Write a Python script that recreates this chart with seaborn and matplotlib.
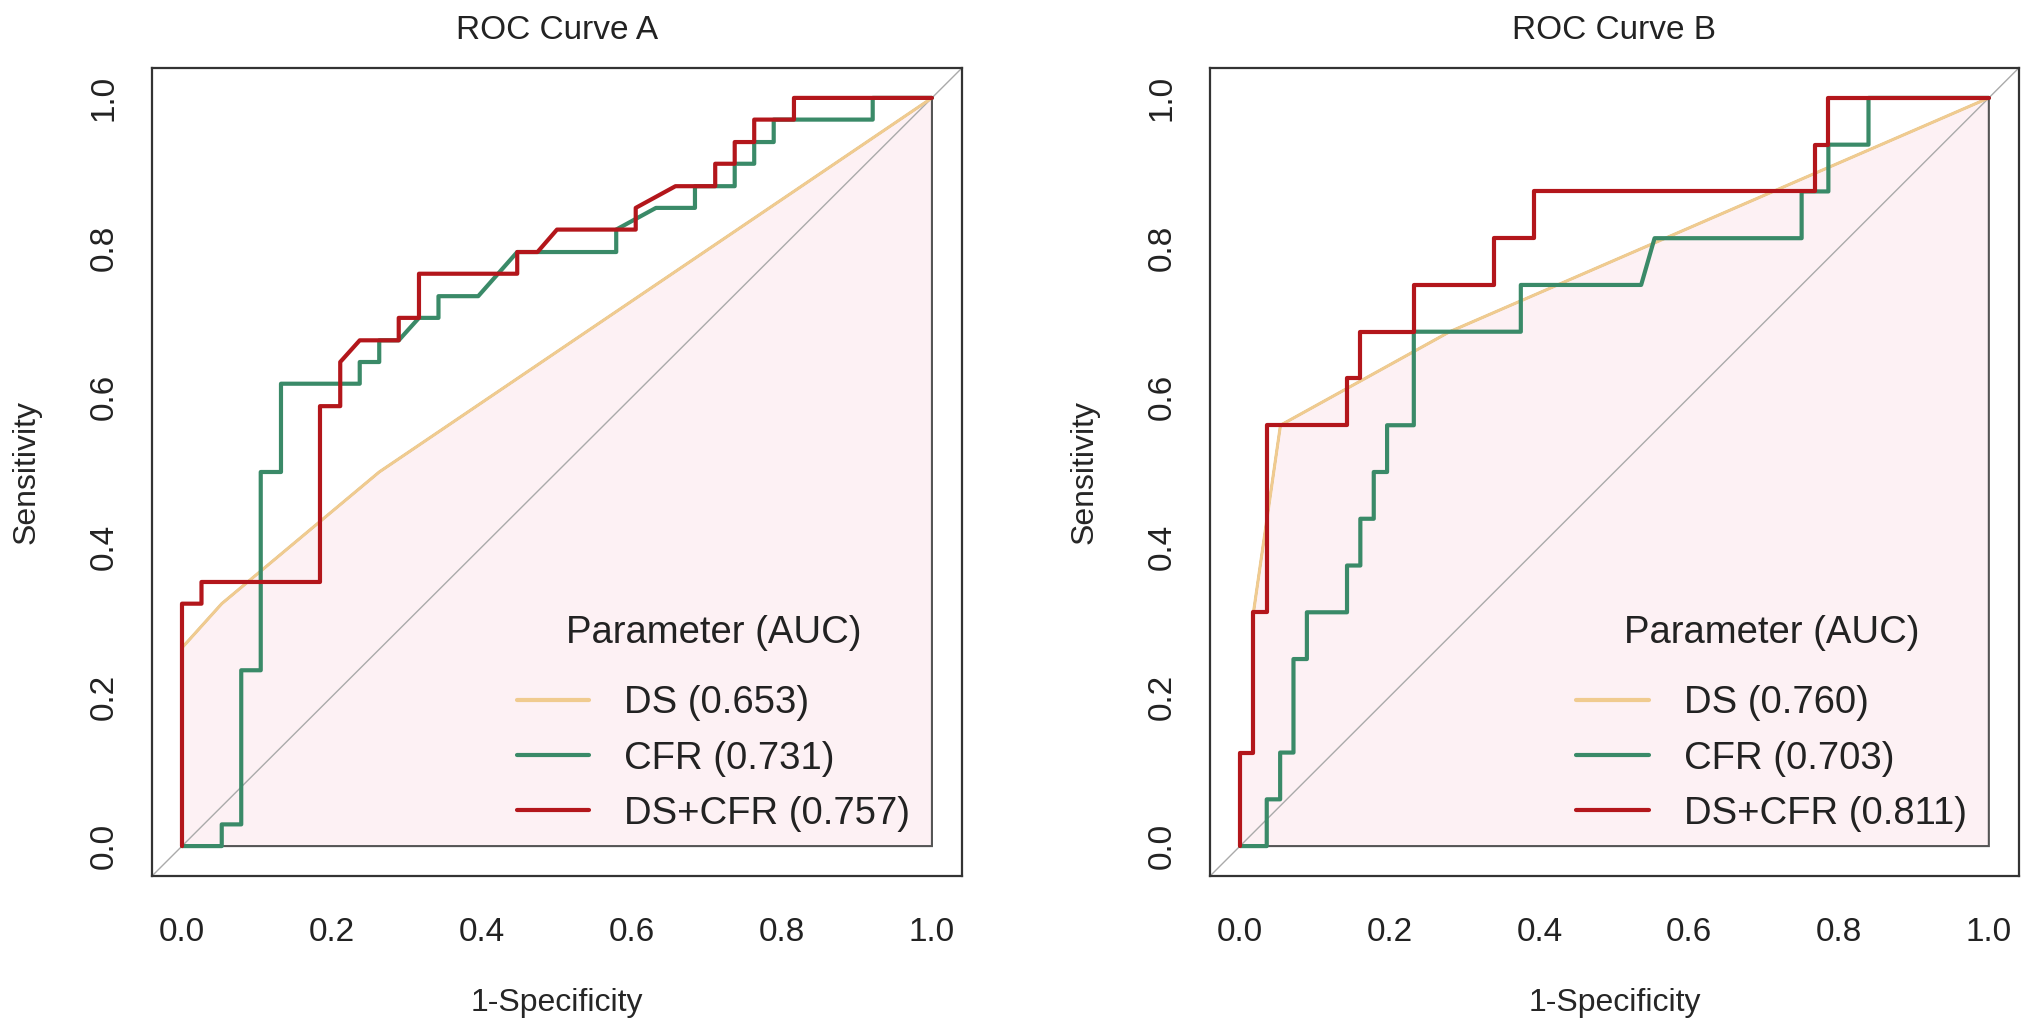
import matplotlib
matplotlib.use("Agg")
import matplotlib.pyplot as plt
import seaborn as sns

# ROC curve A (38 negatives, 34 positives)
a_ds_x = [0.0, 0.0, 0.053, 0.263, 1.0]
a_ds_y = [0.0, 0.265, 0.324, 0.5, 1.0]
a_cfr_x = [0.0, 0.053, 0.053, 0.079, 0.079, 0.105, 0.105, 0.132, 0.132, 0.237, 0.237,
           0.263, 0.263, 0.289, 0.316, 0.342, 0.342, 0.395, 0.447, 0.579, 0.579, 0.632,
           0.684, 0.684, 0.737, 0.737, 0.763, 0.763, 0.789, 0.789, 0.921, 0.921, 1.0]
a_cfr_y = [0.0, 0.0, 0.029, 0.029, 0.235, 0.235, 0.5, 0.5, 0.618, 0.618, 0.647,
           0.647, 0.676, 0.676, 0.706, 0.706, 0.735, 0.735, 0.794, 0.794, 0.824, 0.853,
           0.853, 0.882, 0.882, 0.912, 0.912, 0.941, 0.941, 0.971, 0.971, 1.0, 1.0]
a_comb_x = [0.0, 0.0, 0.026, 0.026, 0.184, 0.184, 0.211, 0.211, 0.237, 0.289, 0.289,
            0.316, 0.316, 0.447, 0.447, 0.474, 0.5, 0.605, 0.605, 0.658, 0.711, 0.711,
            0.737, 0.737, 0.763, 0.763, 0.816, 0.816, 1.0]
a_comb_y = [0.0, 0.324, 0.324, 0.353, 0.353, 0.588, 0.588, 0.647, 0.676, 0.676, 0.706,
            0.706, 0.765, 0.765, 0.794, 0.794, 0.824, 0.824, 0.853, 0.882, 0.882, 0.912,
            0.912, 0.941, 0.941, 0.971, 0.971, 1.0, 1.0]
a_auc = [0.653, 0.731, 0.757]

# ROC curve B (56 negatives, 16 positives)
b_ds_x = [0.0, 0.0, 0.018, 0.018, 0.054, 0.28, 1.0]
b_ds_y = [0.0, 0.125, 0.125, 0.3125, 0.5625, 0.6875, 1.0]
b_cfr_x = [0.0, 0.0357, 0.0357, 0.0536, 0.0536, 0.0714, 0.0714, 0.0893, 0.0893, 0.1429,
           0.1429, 0.1607, 0.1607, 0.1786, 0.1786, 0.1964, 0.1964, 0.2321, 0.2321, 0.375,
           0.375, 0.5357, 0.5536, 0.75, 0.75, 0.7857, 0.7857, 0.8393, 0.8393, 1.0]
b_cfr_y = [0.0, 0.0, 0.0625, 0.0625, 0.125, 0.125, 0.25, 0.25, 0.3125, 0.3125,
           0.375, 0.375, 0.4375, 0.4375, 0.5, 0.5, 0.5625, 0.5625, 0.6875, 0.6875,
           0.75, 0.75, 0.8125, 0.8125, 0.875, 0.875, 0.9375, 0.9375, 1.0, 1.0]
b_comb_x = [0.0, 0.0, 0.0179, 0.0179, 0.0357, 0.0357, 0.1429, 0.1429, 0.1607, 0.1607,
            0.2321, 0.2321, 0.3393, 0.3393, 0.3929, 0.3929, 0.7679, 0.7679, 0.7857, 0.7857, 1.0]
b_comb_y = [0.0, 0.125, 0.125, 0.3125, 0.3125, 0.5625, 0.5625, 0.625, 0.625, 0.6875,
            0.6875, 0.75, 0.75, 0.8125, 0.8125, 0.875, 0.875, 0.9375, 0.9375, 1.0, 1.0]
b_auc = [0.760, 0.703, 0.811]

tick_vals = [0.0, 0.2, 0.4, 0.6, 0.8, 1.0]
tick_labels = ["0.0", "0.2", "0.4", "0.6", "0.8", "1.0"]

DS_COL = "#F0CB8F"
CFR_COL = "#3A8A68"
COMB_COL = "#B3161B"
PINK = "#FDF1F4"
DARK = "#333333"

sns.set_style("white")
plt.rcParams["font.family"] = ["Liberation Sans", "DejaVu Sans"]
plt.rcParams["text.color"] = "#222222"


def draw_panel(ax, title, ds_x, ds_y, cfr_x, cfr_y, comb_x, comb_y, aucs):
    # shaded area under the DS curve
    ax.fill(ds_x + [1.0], ds_y + [0.0], facecolor=PINK, edgecolor="#555555", lw=1.5, zorder=1)
    ax.axline((0, 0), (1, 1), color="#AAAAAA", lw=1.0, zorder=2)

    sns.lineplot(x=ds_x, y=ds_y, sort=False, estimator=None, color=DS_COL, lw=2.2,
                 ax=ax, label=f"DS ({aucs[0]:.3f})", zorder=3)
    sns.lineplot(x=cfr_x, y=cfr_y, sort=False, estimator=None, color=CFR_COL, lw=3.0,
                 ax=ax, label=f"CFR ({aucs[1]:.3f})", zorder=4)
    sns.lineplot(x=comb_x, y=comb_y, sort=False, estimator=None, color=COMB_COL, lw=3.0,
                 ax=ax, label=f"DS+CFR ({aucs[2]:.3f})", zorder=5)

    ax.set_xlim(-0.04, 1.04)
    ax.set_ylim(-0.04, 1.04)
    ax.set_xticks(tick_vals)
    ax.set_xticklabels(tick_labels)
    ax.set_yticks(tick_vals)
    ax.set_yticklabels(tick_labels, rotation=90, va="center")
    ax.tick_params(axis="both", direction="out", length=16.5, width=1.5, colors=DARK,
                   labelsize=24, labelcolor="#222222")
    ax.tick_params(axis="x", pad=13)
    ax.tick_params(axis="y", pad=7)
    for sp in ax.spines.values():
        sp.set_visible(True)
        sp.set_color(DARK)
        sp.set_linewidth(1.6)

    ax.set_title(title, fontsize=24, pad=21)
    ax.set_xlabel("1-Specificity", fontsize=23, labelpad=29)
    ax.set_ylabel("Sensitivity", fontsize=23, labelpad=34)

    handles, labels = ax.get_legend_handles_labels()
    leg = ax.legend(handles, labels, title="Parameter (AUC)", loc="lower right",
                    bbox_to_anchor=(0.955, 0.036), frameon=False, fontsize=27.5,
                    title_fontsize=27.5, handlelength=1.9, handletextpad=0.92,
                    labelspacing=0.5, borderaxespad=0)
    # extra room between the legend title and the first entry
    leg._legend_box.sep = 25
    for line in leg.get_lines():
        line.set_linewidth(3.0)
    leg.get_title().set_color("#222222")


fig = plt.figure(figsize=(20.32, 10.30), dpi=100)
ax_a = fig.add_axes([0.0748, 0.1495, 0.3986, 0.7845])
ax_b = fig.add_axes([0.5955, 0.1495, 0.3980, 0.7845])

draw_panel(ax_a, "ROC Curve A", a_ds_x, a_ds_y, a_cfr_x, a_cfr_y, a_comb_x, a_comb_y, a_auc)
draw_panel(ax_b, "ROC Curve B", b_ds_x, b_ds_y, b_cfr_x, b_cfr_y, b_comb_x, b_comb_y, b_auc)

fig.savefig("out.png", dpi=100, facecolor="white")
